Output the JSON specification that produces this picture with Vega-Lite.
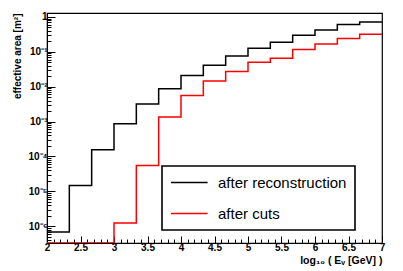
{
  "$schema": "https://vega.github.io/schema/vega-lite/v6.json",
  "width": 335,
  "height": 230,
  "autosize": {"type": "none"},
  "padding": {"left": 47, "top": 13, "right": 21, "bottom": 28},
  "background": "white",
  "config": {
    "view": {"stroke": "black", "strokeWidth": 1.2},
    "font": "Liberation Sans"
  },
  "data": {
    "values": [
      {"series": "after reconstruction", "x": 2.0, "y": 6.8e-7},
      {"series": "after reconstruction", "x": 2.3333, "y": 1.48e-5},
      {"series": "after reconstruction", "x": 2.6667, "y": 1.56e-4},
      {"series": "after reconstruction", "x": 3.0, "y": 8.7e-4},
      {"series": "after reconstruction", "x": 3.3333, "y": 3.2e-3},
      {"series": "after reconstruction", "x": 3.6667, "y": 8.8e-3},
      {"series": "after reconstruction", "x": 4.0, "y": 0.021},
      {"series": "after reconstruction", "x": 4.3333, "y": 0.041},
      {"series": "after reconstruction", "x": 4.6667, "y": 0.076},
      {"series": "after reconstruction", "x": 5.0, "y": 0.126},
      {"series": "after reconstruction", "x": 5.3333, "y": 0.187},
      {"series": "after reconstruction", "x": 5.6667, "y": 0.30},
      {"series": "after reconstruction", "x": 6.0, "y": 0.42},
      {"series": "after reconstruction", "x": 6.3333, "y": 0.61},
      {"series": "after reconstruction", "x": 6.6667, "y": 0.72},
      {"series": "after reconstruction", "x": 7.0, "y": 0.72},
      {"series": "after cuts", "x": 2.0, "y": 3.3e-7},
      {"series": "after cuts", "x": 2.3333, "y": 3.3e-7},
      {"series": "after cuts", "x": 2.6667, "y": 3.3e-7},
      {"series": "after cuts", "x": 3.0, "y": 1.24e-6},
      {"series": "after cuts", "x": 3.3333, "y": 5.5e-5},
      {"series": "after cuts", "x": 3.6667, "y": 1.35e-3},
      {"series": "after cuts", "x": 4.0, "y": 5.6e-3},
      {"series": "after cuts", "x": 4.3333, "y": 0.0146},
      {"series": "after cuts", "x": 4.6667, "y": 0.0275},
      {"series": "after cuts", "x": 5.0, "y": 0.050},
      {"series": "after cuts", "x": 5.3333, "y": 0.065},
      {"series": "after cuts", "x": 5.6667, "y": 0.117},
      {"series": "after cuts", "x": 6.0, "y": 0.168},
      {"series": "after cuts", "x": 6.3333, "y": 0.243},
      {"series": "after cuts", "x": 6.6667, "y": 0.317},
      {"series": "after cuts", "x": 7.0, "y": 0.317}
    ]
  },
  "mark": {"type": "line", "interpolate": "step-after", "strokeWidth": 1.5, "clip": true},
  "encoding": {
    "x": {
      "field": "x", "type": "quantitative",
      "scale": {"domain": [2, 7], "nice": false, "zero": false},
      "axis": {
        "title": "log₁₀ ( Eᵥ [GeV] )",
        "titleAnchor": "end",
        "titleFontSize": 10.5,
        "titleFontWeight": "bold",
        "titlePadding": 0,
        "values": [2.0,2.1,2.2,2.3,2.4,2.5,2.6,2.7,2.8,2.9,3.0,3.1,3.2,3.3,3.4,3.5,3.6,3.7,3.8,3.9,4.0,4.1,4.2,4.3,4.4,4.5,4.6,4.7,4.8,4.9,5.0,5.1,5.2,5.3,5.4,5.5,5.6,5.7,5.8,5.9,6.0,6.1,6.2,6.3,6.4,6.5,6.6,6.7,6.8,6.9,7.0],
        "labelExpr": "abs(datum.value*2 - round(datum.value*2)) < 0.01 ? format(datum.value, '~g') : ''",
        "labelOverlap": false,
        "labelBound": false,
        "labelFlush": false,
        "labelFontSize": 10,
        "labelFontWeight": "bold",
        "labelColor": "black",
        "labelPadding": 6,
        "tickSize": {"condition": {"test": "abs(datum.value*2 - round(datum.value*2)) < 0.01", "value": -7}, "value": -4},
        "tickColor": "black",
        "domainColor": "black",
        "grid": false
      }
    },
    "y": {
      "field": "y", "type": "quantitative",
      "scale": {"type": "log", "domain": [3.3e-7, 1.3], "nice": false},
      "axis": {
        "title": "effective area [m²]",
        "titleAnchor": "end",
        "titleFontSize": 10,
        "titleFontWeight": "bold",
        "titlePadding": 5,
        "values": [4e-7,5e-7,6e-7,7e-7,8e-7,9e-7,1e-6,2e-6,3e-6,4e-6,5e-6,6e-6,7e-6,8e-6,9e-6,1e-5,2e-5,3e-5,4e-5,5e-5,6e-5,7e-5,8e-5,9e-5,1e-4,2e-4,3e-4,4e-4,5e-4,6e-4,7e-4,8e-4,9e-4,1e-3,2e-3,3e-3,4e-3,5e-3,6e-3,7e-3,8e-3,9e-3,1e-2,2e-2,3e-2,4e-2,5e-2,6e-2,7e-2,8e-2,9e-2,0.1,0.2,0.3,0.4,0.5,0.6,0.7,0.8,0.9,1],
        "labelExpr": "abs(log(datum.value)/LN10 - round(log(datum.value)/LN10)) < 0.001 ? ['10⁻⁶','10⁻⁵','10⁻⁴','10⁻³','10⁻²','10⁻¹','1'][round(log(datum.value)/LN10)+6] : ''",
        "labelOverlap": false,
        "labelBound": false,
        "labelFlush": false,
        "labelFontSize": 10,
        "labelFontWeight": "bold",
        "labelColor": "black",
        "labelPadding": 8,
        "tickSize": {"condition": {"test": "abs(log(datum.value)/LN10 - round(log(datum.value)/LN10)) < 0.001", "value": -8}, "value": -4},
        "tickColor": "black",
        "domainColor": "black",
        "grid": false
      }
    },
    "color": {
      "field": "series", "type": "nominal",
      "scale": {"domain": ["after reconstruction", "after cuts"], "range": ["#000000", "#ff0000"]},
      "legend": {
        "title": null,
        "orient": "none",
        "legendX": 115,
        "legendY": 153,
        "fillColor": "white",
        "strokeColor": "black",
        "padding": 8,
        "symbolType": "M-1,0H3.88",
        "symbolSize": 225,
        "symbolStrokeWidth": 1.5,
        "labelFontSize": 15,
        "labelColor": "black",
        "labelOffset": 31,
        "rowPadding": 14,
        "labelLimit": 300,
        "labelExpr": "datum.label + '\u00a0\u00a0'",
        "encode": {"legend": {"update": {"strokeWidth": {"value": 1.6}}}}
      }
    }
  }
}
